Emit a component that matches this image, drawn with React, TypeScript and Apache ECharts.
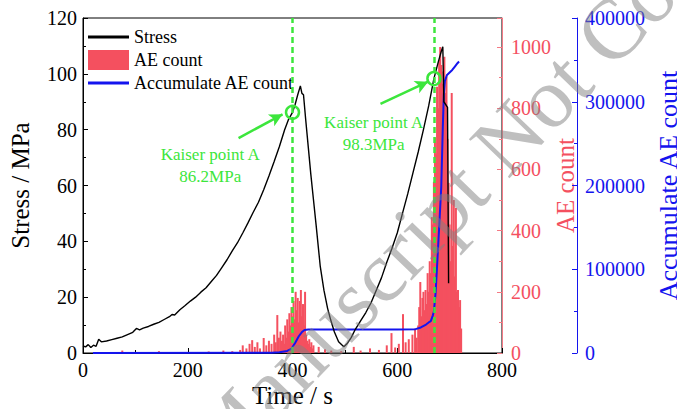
import React, { useEffect, useRef } from "react";
import * as echarts from "echarts";

const FONT = "'Liberation Serif', 'Times New Roman', 'DejaVu Serif', serif";

const stressTime = [0, 5, 10, 15, 20, 25, 30, 35, 45, 55, 65, 75, 85, 95, 102, 108, 115, 125, 135, 145, 155, 165, 170, 175, 185, 195, 205, 215, 225, 235, 245, 255, 265, 275, 285, 295, 305, 315, 325, 335, 345, 355, 365, 375, 385, 392, 400, 405, 410, 415, 418, 421, 425, 430, 435, 440, 445, 453, 460, 467, 473, 480, 488, 498, 505, 512, 520, 530, 540, 550, 560, 570, 580, 590, 600, 610, 620, 630, 640, 650, 660, 670, 678, 684, 687, 689, 696, 698];
const stressValue = [2.5, 2.2, 3.0, 2.0, 2.8, 2.4, 4.9, 4.0, 4.3, 4.8, 5.3, 5.8, 6.6, 7.4, 8.8, 8.3, 8.9, 9.5, 10.3, 11.0, 12.0, 13.0, 13.8, 13.6, 15.5, 17.0, 18.6, 20.0, 21.8, 23.4, 25.6, 27.8, 30.6, 33.4, 36.6, 39.5, 43.0, 46.6, 50.4, 54.0, 58.5, 63.4, 68.6, 74.0, 80.0, 83.5, 86.2, 89.0, 92.5, 95.7, 93.0, 92.5, 84.0, 74.0, 64.0, 55.0, 46.0, 31.0, 22.5, 16.0, 11.8, 7.5, 4.0, 2.2, 3.5, 5.5, 8.5, 11.5, 14.5, 18.0, 22.5, 27.0, 32.5, 37.5, 43.0, 50.0, 57.0, 64.5, 72.0, 80.0, 88.5, 98.3, 104.0, 108.0, 109.7, 90.0, 88.0, 25.0];

const aeTime = [75, 145, 240, 268, 285, 300, 305, 312, 318, 323, 328, 333, 338, 345, 350, 355, 360, 365, 368, 371, 374, 377, 380, 382, 384, 386, 388, 390, 392, 394, 396, 398, 400, 402, 404, 406, 408, 410, 412, 414, 416, 418, 420, 422, 424, 426, 428, 430, 432, 434, 436, 438, 440, 450, 462, 474, 493, 517, 530, 548, 565, 580, 589, 596, 603, 611, 616, 622, 629, 634, 637, 640, 642, 644, 646, 648, 650, 652, 654, 656, 658, 660, 662, 664, 666, 668, 670, 672, 674, 676, 678, 680, 682, 684, 686, 688, 690, 692, 694, 696, 698, 700, 702, 704, 706, 708, 710, 712, 714, 716, 718, 720, 722];
const aeCount = [8, 6, 5, 8, 6, 10, 25, 15, 30, 42, 20, 35, 15, 49, 25, 40, 30, 60, 35, 124, 50, 70, 40, 60, 30, 90, 50, 110, 70, 130, 90, 150, 120, 170, 110, 200, 140, 180, 100, 170, 206, 120, 160, 90, 200, 60, 40, 30, 45, 20, 35, 15, 25, 20, 12, 8, 6, 20, 8, 15, 10, 25, 65, 18, 30, 127, 35, 45, 60, 80, 50, 90, 150, 232, 120, 180, 200, 140, 206, 160, 261, 200, 300, 261, 444, 420, 560, 705, 650, 870, 800, 957, 1000, 941, 880, 920, 968, 850, 903, 700, 556, 420, 300, 850, 350, 500, 250, 474, 200, 206, 150, 173, 80];

const accTime = [19, 360, 375, 390, 398, 405, 412, 418, 423, 430, 500, 600, 635, 645, 655, 660, 664, 668, 670, 673, 676, 680, 684, 687, 689, 691, 695, 700, 705, 710, 715, 718];
const accValue = [0, 300, 1000, 2500, 5000, 12000, 20000, 25000, 27500, 28000, 28000, 28200, 28500, 30500, 34000, 36500, 38000, 45000, 50000, 70000, 103000, 150000, 198000, 270000, 310000, 325000, 332000, 335000, 338000, 342000, 346000, 348000];

const kaiserTimes = [400, 670];
const kaiserStress = [86.2, 98.3];
const kaiserLabels = ["Kaiser point A\n86.2MPa", "Kaiser point A\n98.3MPa"];
const labelPos = [[243, 67], [555, 78.5]];
const arrowStart = [[297, 77], [568, 89.2]];
const arrowEnd = [[381, 85.5], [659, 97.2]];

const GREEN = "#3ce63c";
const RED = "#f4505f";
const BLUE = "#1414ee";
const LINE_ICON = "path://M0,0h0.01v20h-0.01z M0,8.5h41v3h-41z";

export default function App() {
  const ref = useRef<HTMLDivElement>(null);
  useEffect(() => {
    document.body.style.margin = "0";
    const chart = echarts.init(ref.current!, null, { renderer: "svg" });
    const zip = (a: number[], b: number[]) => a.map((v, i) => [v, b[i]]);
    const plain = (v: number) => String(v);
    chart.setOption({
      animation: false,
      textStyle: { fontFamily: FONT },
      grid: {
        left: 83,
        right: 175,
        top: 18,
        bottom: 56,
        show: true,
        borderColor: "#000",
        borderWidth: 1,
        containLabel: false,
        outerBoundsMode: "none",
      },
      legend: {
        orient: "vertical",
        left: 88,
        top: 27,
        padding: 0,
        itemWidth: 41,
        itemHeight: 20,
        itemGap: 3,
        textStyle: { fontFamily: FONT, fontSize: 18, color: "#000" },
        data: [
          { name: "Stress", icon: LINE_ICON, itemStyle: { color: "#000" } },
          { name: "AE count", icon: "rect" },
          { name: "Accumulate AE count", icon: LINE_ICON, itemStyle: { color: BLUE } },
        ],
      },
      xAxis: {
        type: "value",
        min: 0,
        max: 800,
        interval: 200,
        name: "Time / s",
        nameLocation: "middle",
        nameGap: 30,
        nameMoveOverlap: false,
        nameTextStyle: { fontFamily: FONT, fontSize: 25, color: "#000" },
        axisLine: { lineStyle: { color: "#000" } },
        axisTick: { inside: true, length: 5, lineStyle: { color: "#000" } },
        minorTick: { show: true, splitNumber: 2, length: 3, lineStyle: { color: "#000" } },
        axisLabel: { fontFamily: FONT, fontSize: 20, color: "#000", margin: 7, formatter: plain },
        splitLine: { show: false },
      },
      yAxis: [
        {
          type: "value",
          min: 0,
          max: 120,
          interval: 20,
          position: "left",
          name: "Stress / MPa",
          nameLocation: "middle",
          nameGap: 50,
          nameMoveOverlap: false,
          nameTextStyle: { fontFamily: FONT, fontSize: 25, color: "#000" },
          axisLine: { show: true, lineStyle: { color: "#000" } },
          axisTick: { show: true, inside: true, length: 5, lineStyle: { color: "#000" } },
          minorTick: { show: true, splitNumber: 2, length: 3, lineStyle: { color: "#000" } },
          axisLabel: { fontFamily: FONT, fontSize: 20, color: "#000", margin: 6, formatter: plain },
          splitLine: { show: false },
        },
        {
          type: "value",
          min: 0,
          max: 1095,
          interval: 200,
          position: "right",
          name: "AE count",
          nameLocation: "middle",
          nameGap: 51,
          nameMoveOverlap: false,
          nameTextStyle: { fontFamily: FONT, fontSize: 25, color: RED },
          axisLine: { show: true, lineStyle: { color: "#f47a85" } },
          axisTick: { show: true, inside: true, length: 5, lineStyle: { color: "#f47a85" } },
          minorTick: { show: true, splitNumber: 2, length: 3, lineStyle: { color: "#f47a85" } },
          axisLabel: { fontFamily: FONT, fontSize: 20, color: RED, margin: 9, showMaxLabel: false, formatter: plain },
          splitLine: { show: false },
        },
        {
          type: "value",
          min: 0,
          max: 400000,
          interval: 100000,
          position: "right",
          offset: 75,
          name: "Accumulate AE count",
          nameLocation: "middle",
          nameGap: 78,
          nameMoveOverlap: false,
          nameTextStyle: { fontFamily: FONT, fontSize: 26, color: BLUE },
          axisLine: { show: true, lineStyle: { color: BLUE } },
          axisTick: { show: true, inside: true, length: 5, lineStyle: { color: BLUE } },
          minorTick: { show: true, splitNumber: 2, length: 3, lineStyle: { color: BLUE } },
          axisLabel: { fontFamily: FONT, fontSize: 20, color: BLUE, margin: 8, formatter: plain },
          splitLine: { show: false },
        },
      ],
      series: [
        {
          name: "AE count",
          type: "bar",
          yAxisIndex: 1,
          barWidth: 2,
          itemStyle: { color: RED },
          data: zip(aeTime, aeCount),
          z: 2,
        },
        {
          name: "Accumulate AE count",
          type: "line",
          yAxisIndex: 2,
          showSymbol: false,
          symbol: "none",
          lineStyle: { color: BLUE, width: 2 },
          itemStyle: { color: BLUE },
          data: zip(accTime, accValue),
          z: 3,
        },
        {
          name: "Stress",
          type: "line",
          yAxisIndex: 0,
          showSymbol: false,
          symbol: "none",
          lineStyle: { color: "#000", width: 1.4 },
          itemStyle: { color: "#000" },
          data: zip(stressTime, stressValue),
          z: 4,
        },
        {
          name: "annot",
          type: "line",
          yAxisIndex: 0,
          data: [],
          z: 5,
          silent: true,
          markLine: {
            silent: true,
            animation: false,
            label: { show: false },
            symbol: ["none", "none"],
            data: [
              ...kaiserTimes.map((t) => ({
                xAxis: t,
                lineStyle: { color: GREEN, width: 2.5, type: [6, 4] },
              })),
              ...arrowStart.map((s, i) => [
                { coord: s, symbol: "none", lineStyle: { color: GREEN, width: 2.5, type: "solid" } },
                { coord: arrowEnd[i], symbol: "arrow", symbolSize: [10, 13] },
              ]),
            ],
          },
          markPoint: {
            silent: true,
            animation: false,
            data: [
              ...kaiserTimes.map((t, i) => ({
                coord: [t, kaiserStress[i]],
                symbol: "circle",
                symbolSize: 13,
                itemStyle: { color: "rgba(0,0,0,0)", borderColor: GREEN, borderWidth: 2.5 },
                label: { show: false },
              })),
              ...labelPos.map((p, i) => ({
                coord: p,
                symbol: "circle",
                symbolSize: 1,
                itemStyle: { color: "rgba(0,0,0,0)" },
                label: {
                  show: true,
                  position: "inside",
                  formatter: kaiserLabels[i],
                  color: GREEN,
                  fontFamily: FONT,
                  fontSize: 17,
                  lineHeight: 22,
                  align: "center",
                },
              })),
            ],
          },
        },
      ],
      graphic: [
        {
          type: "text",
          x: 232,
          y: 488,
          rotation: 0.806,
          silent: true,
          z: 100,
          style: {
            text: "Manuscript Not Copyedited",
            font: `86px ${FONT}`,
            fill: "rgba(128,128,128,0.5)",
            textAlign: "left",
            textVerticalAlign: "bottom",
          },
        },
      ],
    });
    return () => chart.dispose();
  }, []);
  return <div ref={ref} style={{ width: 677, height: 409 }} />;
}
